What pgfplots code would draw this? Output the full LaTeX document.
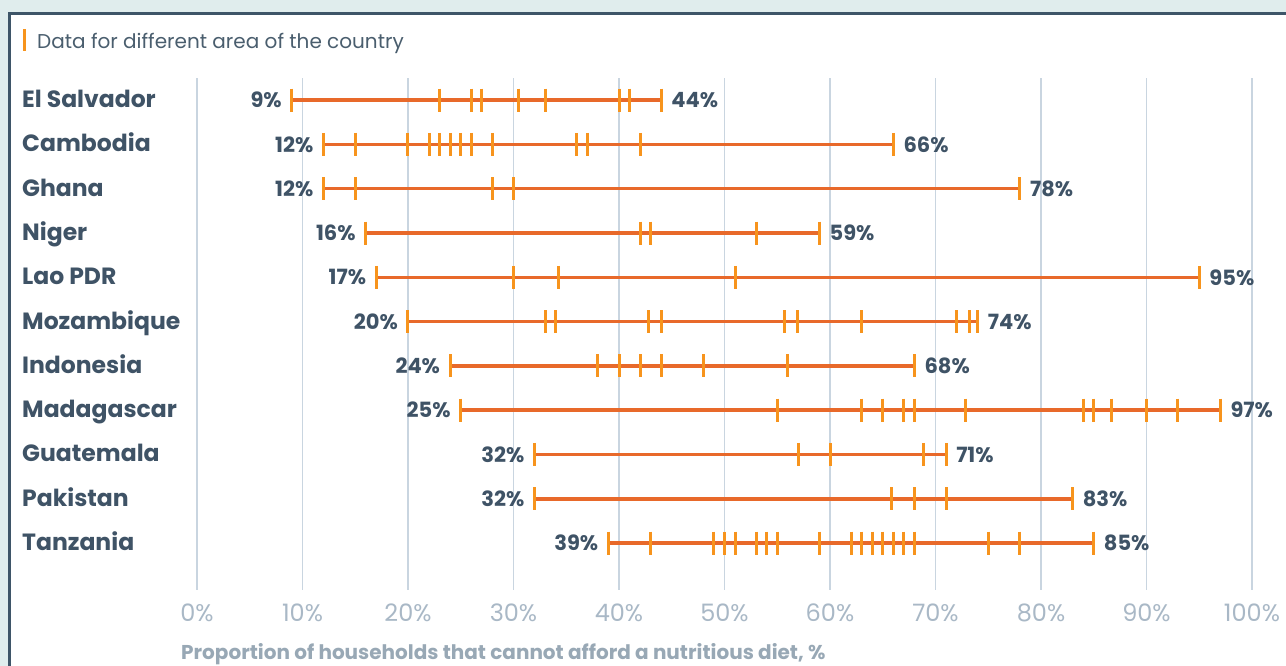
\documentclass[border=0pt]{standalone}
\usepackage{fontspec}
\setmainfont{Poppins}
\usepackage{pgfplots}
\usepackage{pgfplotstable}
\pgfplotsset{compat=1.18}
\definecolor{bgc}{HTML}{E0EDED}
\definecolor{framec}{HTML}{3E5568}
\definecolor{txt}{HTML}{3F5366}
\definecolor{ttl}{HTML}{4A5E6E}
\definecolor{gridc}{HTML}{C9D5E0}
\definecolor{tickl}{HTML}{A9B8C6}
\definecolor{xlab}{HTML}{98A8B5}
\definecolor{linec}{HTML}{E8692A}
\definecolor{markc}{HTML}{F7941D}

\pgfplotstableread{
x y
9 0
23 0
26 0
27 0
30.5 0
33 0
40 0
41 0
44 0
12 1
15 1
20 1
22 1
23 1
24 1
25 1
26 1
28 1
36 1
37 1
42 1
66 1
12 2
15 2
28 2
30 2
78 2
16 3
42 3
43 3
53 3
59 3
17 4
30 4
34.3 4
51 4
95 4
20 5
33 5
34 5
42.8 5
44 5
55.7 5
56.9 5
63 5
72 5
73.2 5
74 5
24 6
38 6
40 6
42 6
44 6
48 6
56 6
68 6
25 7
55 7
63 7
65 7
67 7
68 7
72.8 7
84 7
85 7
86.7 7
90 7
92.9 7
97 7
32 8
57 8
60 8
68.9 8
71 8
32 9
65.8 9
68 9
71 9
83 9
39 10
43 10
49 10
50 10
51 10
53 10
54 10
55 10
59 10
62 10
63 10
64 10
65 10
66 10
67 10
68 10
75 10
78 10
85 10
}\ticksdata

\pgfplotstableread{
row min max
0 9 44
1 12 66
2 12 78
3 16 59
4 17 95
5 20 74
6 24 68
7 25 97
8 32 71
9 32 83
10 39 85
}\ranges

\begin{document}
\begin{tikzpicture}
\clip (0,0) rectangle (1286pt,-666pt);
\fill[bgc] (0,0) rectangle (1286pt,-666pt);
\fill[white] (9.7pt,-13.5pt) rectangle (1300pt,-700pt);
\draw[framec, line width=3pt] (9.7pt,-700pt) -- (9.7pt,-13.5pt) -- (1300pt,-13.5pt);
\fill[markc] (22.5pt,-29pt) rectangle (25.5pt,-51pt);
\node[anchor=base west, inner sep=0pt, font=\fontsize{20}{24}\selectfont, text=ttl] at (37pt,-48.5pt) {Data for different area of the country};

\begin{axis}[
  at={(197pt,-590pt)}, anchor=south west,
  scale only axis, width=1055pt, height=512pt,
  xmin=0, xmax=100, ymin=-0.5, ymax=11.06, y dir=reverse,
  /pgf/number format/assume math mode=true,
  axis line style={draw=none}, major tick style={draw=none},
  xmajorgrids, grid style={gridc, line width=1.5pt},
  xtick={0,10,...,100},
  xticklabels={0\%,10\%,20\%,30\%,40\%,50\%,60\%,70\%,80\%,90\%,100\%},
  xticklabel style={font=\fontsize{24}{28}\selectfont, text=tickl, yshift=-10pt},
  ytick={0,...,10},
  yticklabels={El Salvador,Cambodia,Ghana,Niger,Lao PDR,Mozambique,Indonesia,Madagascar,Guatemala,Pakistan,Tanzania},
  yticklabel style={anchor=base west, inner sep=0pt, xshift=-175pt, yshift=-7.5pt, font=\bfseries\fontsize{23.5}{28}\selectfont, text=txt},
  clip=false,
]
\addplot[draw=none, mark=none, forget plot,
  error bars/.cd, x dir=plus, x explicit, error mark=none,
  error bar style={linec, line width=3.5pt}]
  table[x=min, y=row, x error expr=\thisrow{max}-\thisrow{min}] {\ranges};
\addplot[only marks, mark=|, mark size=11.5pt, mark options={markc, line width=3pt}]
  table[x=x, y=y] {\ticksdata};
\addplot[draw=none, mark=none, nodes near coords={\pgfmathprintnumber{\pgfplotspointmeta}\%}, point meta=x,
  nodes near coords style={anchor=east, inner sep=0pt, xshift=-10pt, font=\bfseries\fontsize{21}{24}\selectfont, text=txt}]
  table[x=min, y=row] {\ranges};
\addplot[draw=none, mark=none, nodes near coords={\pgfmathprintnumber{\pgfplotspointmeta}\%}, point meta=x,
  nodes near coords style={anchor=west, inner sep=0pt, xshift=10pt, font=\bfseries\fontsize{21}{24}\selectfont, text=txt}]
  table[x=max, y=row] {\ranges};
\end{axis}
\node[anchor=west, inner sep=0pt, font=\bfseries\fontsize{20}{24}\selectfont, text=xlab] at (181pt,-654pt) {Proportion of households that cannot afford a nutritious diet, \%};
\end{tikzpicture}
\end{document}
